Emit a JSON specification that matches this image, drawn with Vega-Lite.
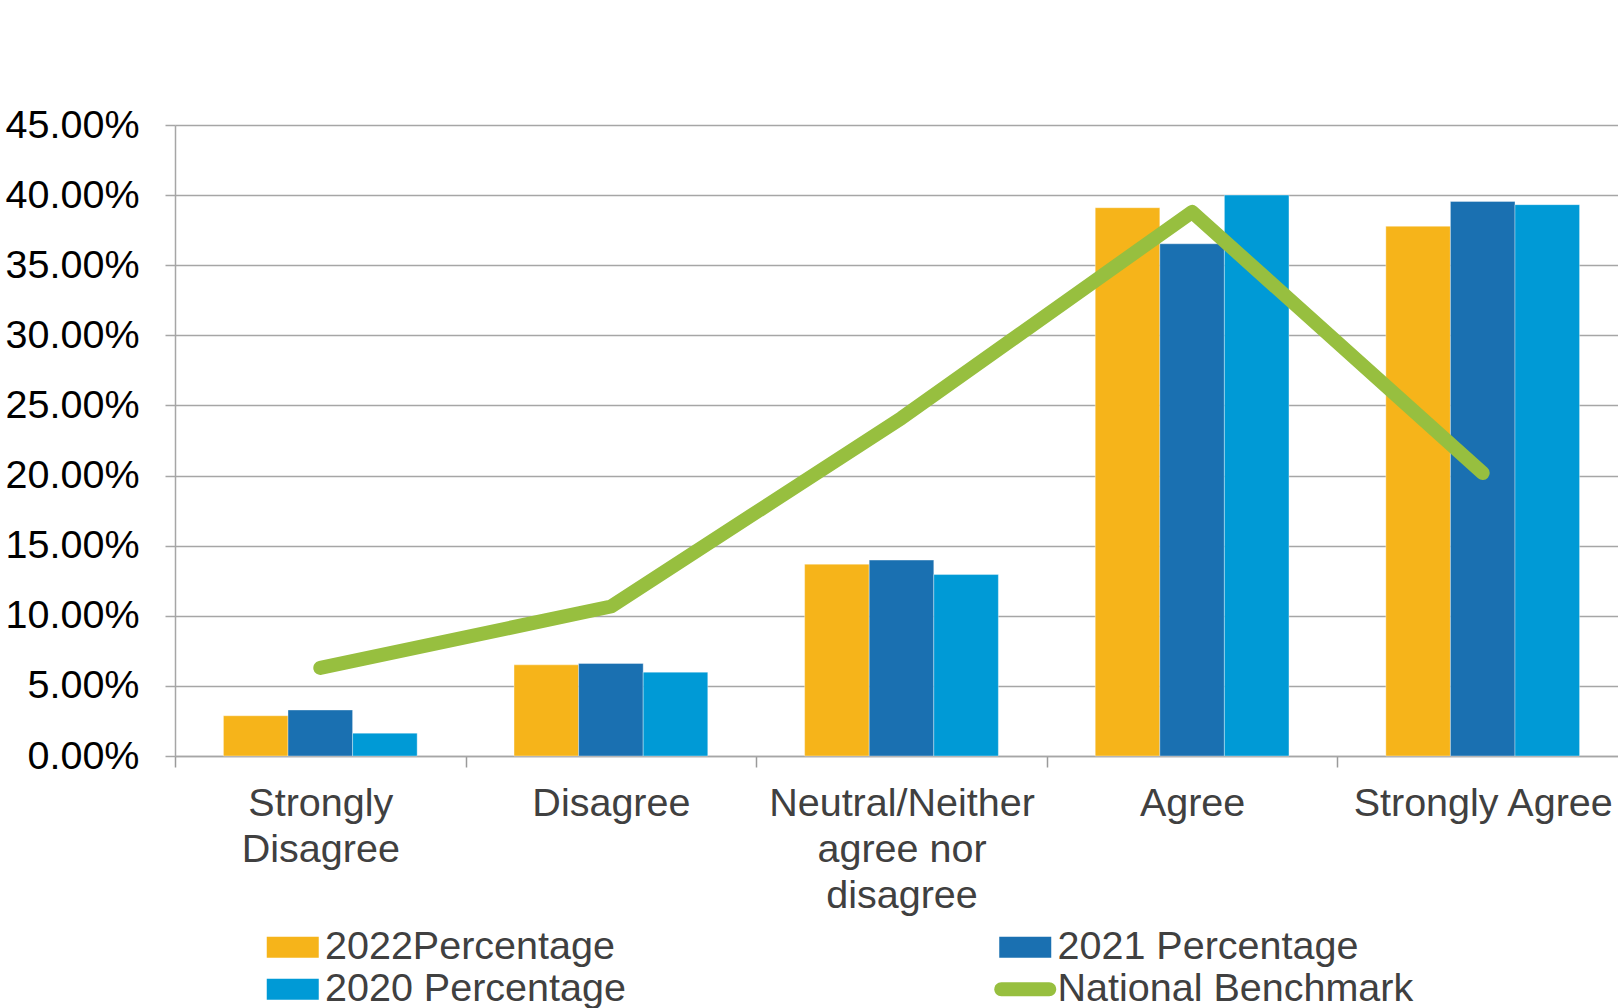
{
  "$schema": "https://vega.github.io/schema/vega-lite/v6.json",
  "autosize": {"type": "none"},
  "width": 1443,
  "height": 631,
  "padding": {"left": 175, "top": 125, "right": 0, "bottom": 252},
  "background": "#ffffff",
  "config": {
    "font": "Liberation Sans",
    "view": {"stroke": null}
  },
  "data": {
    "values": [
      {"category": "Strongly Disagree", "series": "2022Percentage", "value": 0.0287},
      {"category": "Strongly Disagree", "series": "2021 Percentage", "value": 0.0328},
      {"category": "Strongly Disagree", "series": "2020 Percentage", "value": 0.0163},
      {"category": "Strongly Disagree", "series": "National Benchmark", "value": 0.0628},
      {"category": "Disagree", "series": "2022Percentage", "value": 0.065},
      {"category": "Disagree", "series": "2021 Percentage", "value": 0.066},
      {"category": "Disagree", "series": "2020 Percentage", "value": 0.0598},
      {"category": "Disagree", "series": "National Benchmark", "value": 0.1066},
      {"category": "Neutral/Neither agree nor disagree", "series": "2022Percentage", "value": 0.1368},
      {"category": "Neutral/Neither agree nor disagree", "series": "2021 Percentage", "value": 0.1397},
      {"category": "Neutral/Neither agree nor disagree", "series": "2020 Percentage", "value": 0.1294},
      {"category": "Neutral/Neither agree nor disagree", "series": "National Benchmark", "value": 0.241},
      {"category": "Agree", "series": "2022Percentage", "value": 0.391},
      {"category": "Agree", "series": "2021 Percentage", "value": 0.3653},
      {"category": "Agree", "series": "2020 Percentage", "value": 0.4},
      {"category": "Agree", "series": "National Benchmark", "value": 0.388},
      {"category": "Strongly Agree", "series": "2022Percentage", "value": 0.3778},
      {"category": "Strongly Agree", "series": "2021 Percentage", "value": 0.3955},
      {"category": "Strongly Agree", "series": "2020 Percentage", "value": 0.3932},
      {"category": "Strongly Agree", "series": "National Benchmark", "value": 0.2018}
    ]
  },
  "encoding": {
    "x": {
      "field": "category",
      "type": "nominal",
      "sort": ["Strongly Disagree", "Disagree", "Neutral/Neither agree nor disagree", "Agree", "Strongly Agree"],
      "scale": {"paddingInner": 0, "paddingOuter": 0, "range": [0, 1453]},
      "axis": {
        "title": null,
        "labelAngle": 0,
        "labelFontSize": 39.5,
        "labelColor": "#404040",
        "labelLineHeight": 46.4,
        "labelBaseline": "top",
        "labelPadding": 17,
        "labelLimit": 0,
        "labelExpr": "datum.value == 'Strongly Disagree' ? ['Strongly', 'Disagree'] : datum.value == 'Neutral/Neither agree nor disagree' ? ['Neutral/Neither', 'agree nor', 'disagree'] : datum.label",
        "tickBand": "extent",
        "tickSize": 11,
        "tickColor": "#9a9a9a",
        "tickWidth": 1.5,
        "domainColor": "#a6a6a6",
        "domainWidth": 1.5,
        "grid": false
      }
    },
    "y": {
      "field": "value",
      "type": "quantitative",
      "scale": {"domain": [0, 0.45], "nice": false},
      "axis": {
        "title": null,
        "values": [0, 0.05, 0.1, 0.15, 0.2, 0.25, 0.3, 0.35, 0.4, 0.45],
        "format": ".2%",
        "labelFontSize": 39.5,
        "labelColor": "#000000",
        "labelPadding": 26,
        "tickSize": 10,
        "tickColor": "#a6a6a6",
        "tickWidth": 1.5,
        "domainColor": "#a6a6a6",
        "domainWidth": 1.5,
        "grid": true,
        "gridColor": "#a6a6a6",
        "gridWidth": 1.5
      }
    },
    "color": {
      "field": "series",
      "type": "nominal",
      "scale": {
        "domain": ["2022Percentage", "2021 Percentage", "2020 Percentage", "National Benchmark"],
        "range": ["#f6b41a", "#1a70b1", "#009ad6", "#97bf3f"]
      },
      "legend": {
        "title": null,
        "orient": "none",
        "legendX": 98,
        "legendY": 802,
        "direction": "horizontal",
        "columns": 2,
        "columnPadding": 367.5,
        "rowPadding": 1.5,
        "padding": 0,
        "symbolSize": 441,
        "labelFontSize": 39.5,
        "labelColor": "#404040",
        "labelOffset": 12.5,
        "labelLimit": 0,
        "encode": {
          "symbols": {
            "update": {
              "shape": {"signal": "datum.value === 'National Benchmark' ? 'M-2.28,-0.667H2.28A0.667,0.667 0 0 1 2.28,0.667H-2.28A0.667,0.667 0 0 1 -2.28,-0.667Z' : 'M-2.476,-1H2.476V1H-2.476Z'"},
              "fill": {"scale": "color", "field": "value"},
              "fillOpacity": {"value": 1},
              "strokeWidth": {"value": 0}
            }
          }
        }
      }
    }
  },
  "layer": [
    {
      "transform": [{"filter": "datum.series !== 'National Benchmark'"}],
      "mark": {"type": "bar", "stroke": "#ffffff", "strokeWidth": 0.6, "strokeOpacity": 0.6},
      "encoding": {
        "xOffset": {
          "field": "series",
          "sort": ["2022Percentage", "2021 Percentage", "2020 Percentage"],
          "scale": {"paddingInner": 0, "paddingOuter": 0.75}
        }
      }
    },
    {
      "transform": [{"filter": "datum.series === 'National Benchmark'"}],
      "mark": {"type": "line", "strokeWidth": 14, "strokeCap": "round", "strokeJoin": "round"},
      "encoding": {}
    }
  ]
}
